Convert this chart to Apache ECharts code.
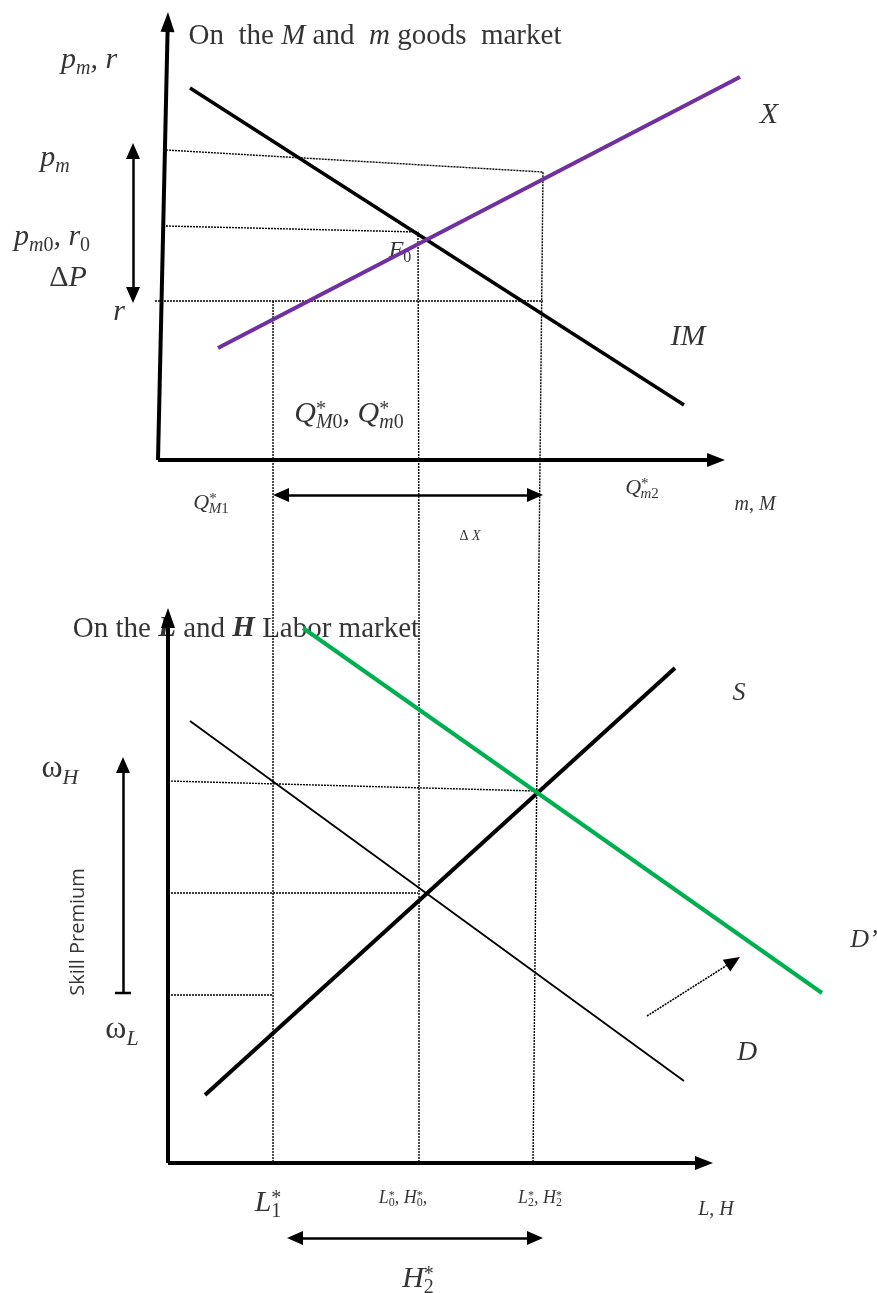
<!DOCTYPE html>
<html><head><meta charset="utf-8">
<script src="https://cdn.jsdelivr.net/npm/echarts@6.0.0/dist/echarts.min.js"></script>
<style>html,body{margin:0;padding:0;background:#fff}#c{width:877px;height:1293px}</style>
</head><body><div id="c"></div>
<script>
// ===== Goods market panel (quantity m,M ; price p_m,r), units measured from the origin =====
const imCurve   = [[32, 372], [526, 55]];      // IM (import demand)
const xCurve    = [[60, 112], [582, 383]];     // X  (export supply)
const pmGuide   = [[8, 310], [385, 288], [381, -100]];
const pm0Guide  = [[8, 234], [260, 228], [261, -100]];
const rGuide    = [[-3, 159], [385, 159]];
const qM1Guide  = [[115, 159], [115, -100]];
const topYAxis  = [[0, 0], [10, 448]];
const topXAxis  = [[0, 0], [567, 0]];
const deltaPArrow = [[-25, 317], [-25, 157]];
const deltaXArrow = [[115, -35], [385, -35]];

// ===== Labor market panel (quantity L,H ; wage ω), units measured from the origin =====
const sCurve      = [[37, 68], [507, 495]];     // S
const dCurve      = [[22, 442], [516, 82]];     // D
const dPrimeCurve = [[135, 535], [654, 170]];   // D'
const wHGuide  = [[0, 382], [368, 372]];
const w0Guide  = [[0, 270], [250, 270]];
const wLGuide  = [[0, 168], [105, 168]];
const vL1 = [[105, 603], [105, 0]];
const vL0 = [[251, 603], [251, 0]];
const vL2 = [[371, 603], [365, 0]];
const botYAxis = [[0, 0], [0, 555]];
const botXAxis = [[0, 0], [545, 0]];
const skillArrow = [[-45, 170], [-45, 406]];
const skillBar   = [[-53, 170], [-37, 170]];
const shiftArrow = [[479, 147], [572, 206]];
const h2Arrow    = [[119, -75], [375, -75]];

// ===== Text annotations =====
const topLabels = [
  {t: '{t29|On  the }{ti29|M}{t29| and  }{ti29|m}{t29| goods  market}', at: [217, 424]},
  {t: '{i30|p}{sb30|m}{i30|, r}', at: [-69, 400]},
  {t: '{i30|p}{sb30|m}', at: [-103, 302]},
  {t: '{i30|p}{sb30|m}{sbu30|0}{i30|, r}{sbu30|0}', at: [-106, 223]},
  {t: '{u30|Δ}{i30|P}', at: [-90, 182]},
  {t: '{i30|r}', at: [-39, 148]},
  {t: '{i24|F}{sbu24|0}', at: [242, 209]},
  {t: '{i30|X}', at: [611, 345]},
  {t: '{i30|IM}', at: [530, 123]},
  {t: '{i30|Q}{sp30|*}{sbs30|M}{sbu30|0}{i30|, Q}{sp30|*}{sbs30|m}{sbu30|0}', at: [191, 46]},
  {t: '{i22|Q}{sp22|*}{sbs22|M}{sbu22|1}', at: [53, -43]},
  {t: '{i22|Q}{sp22|*}{sbs22|m}{sbu22|2}', at: [484, -28]},
  {t: '{i20|m, M}', at: [597, -45]},
  {t: '{u14|Δ }{i14|X}', at: [312, -76]}
];
const botLabels = [
  {t: '{t29|On the }{tb29|L}{t29| and }{tb29|H}{t29| Labor market}', at: [78, 534]},
  {t: '{u32|ω}{sb32|H}', at: [-108, 394]},
  {t: '{u32|ω}{sb32|L}', at: [-46, 133]},
  {t: '{i26|S}', at: [571, 470]},
  {t: '{i26|D’}', at: [696, 223]},
  {t: '{i28|D}', at: [579, 110]},
  {t: '{i30|L}{sp30|*}{sbsu30|1}', at: [100, -40]},
  {t: '{i18|L}{sp18|*}{sbsu18|0}{i18|, H}{sp18|*}{sbsu18|0}{i18|,}', at: [235, -35]},
  {t: '{i18|L}{sp18|*}{sbsu18|2}{i18|, H}{sp18|*}{sbsu18|2}', at: [372, -35]},
  {t: '{i20|L, H}', at: [548, -47]},
  {t: '{i30|H}{sp30|*}{sbsu30|2}', at: [250, -116]}
];
const skillLabel = {t: 'Skill Premium', at: [-90, 231]};

// ===== styling helpers =====
const SERIF = '"Liberation Serif", "DejaVu Serif", serif';
function richFor(N) {
  const r = {};
  const base = {fontFamily: SERIF, color: '#000'};
  r['t' + N]  = Object.assign({}, base, {fontSize: N});
  r['ti' + N] = Object.assign({}, base, {fontSize: N, fontStyle: 'italic'});
  r['tb' + N] = Object.assign({}, base, {fontSize: N, fontStyle: 'italic', fontWeight: 'bold'});
  r['i' + N]  = Object.assign({}, base, {fontSize: N, fontStyle: 'italic'});
  r['u' + N]  = Object.assign({}, base, {fontSize: N});
  const s = Math.round(N * 0.68);
  const down = Math.round(N * 0.55);
  const up = Math.round(N * 0.3);
  const starW = Math.round(s * 0.5);
  r['sb' + N]   = Object.assign({}, base, {fontSize: s, fontStyle: 'italic', padding: [down, 0, 0, 0]});
  r['sbu' + N]  = Object.assign({}, base, {fontSize: s, padding: [down, 0, 0, 0]});
  r['sbs' + N]  = Object.assign({}, base, {fontSize: s, fontStyle: 'italic', padding: [down, 0, 0, -starW]});
  r['sbsu' + N] = Object.assign({}, base, {fontSize: s, padding: [down, 0, 0, -starW]});
  r['sp' + N]   = Object.assign({}, base, {fontSize: s, padding: [0, 0, up, 0]});
  return r;
}
const rich = Object.assign({}, ...[14, 18, 20, 22, 24, 26, 28, 29, 30, 32].map(richFor));

const DOT = [2, 1];
function lineS(g, data, color, width, dashed, z) {
  return {
    type: 'line', xAxisIndex: g, yAxisIndex: g, data: data, symbol: 'none', showSymbol: false,
    silent: true, animation: false, z: z || 3,
    lineStyle: {color: color, width: width, type: dashed ? DOT : 'solid', cap: 'butt'}
  };
}
// arrow segment: shorten so that the triangle's tip lands on the given end point (units are 1:1 with px)
function arrowItem(a, b, head, both, sizeW) {
  const dx = b[0] - a[0], dy = b[1] - a[1], L = Math.hypot(dx, dy);
  const k = head / 2 / L;
  const b2 = [b[0] - dx * k, b[1] - dy * k];
  const a2 = both ? [a[0] + dx * k, a[1] + dy * k] : a;
  return [
    {coord: a2, symbol: both ? 'triangle' : 'none', symbolSize: [sizeW, head]},
    {coord: b2, symbol: 'triangle', symbolSize: [sizeW, head]}
  ];
}
function arrowS(g, items, width, dashed) {
  return {
    type: 'line', xAxisIndex: g, yAxisIndex: g, data: [], silent: true, animation: false, z: 5,
    markLine: {
      silent: true, animation: false, label: {show: false}, emphasis: {disabled: true},
      lineStyle: {color: '#000', width: width, type: dashed ? DOT : 'solid'},
      itemStyle: {color: '#000'},
      data: items
    }
  };
}
function labelS(g, labels) {
  return {
    type: 'scatter', xAxisIndex: g, yAxisIndex: g, silent: true, animation: false, z: 4,
    symbolSize: 1, itemStyle: {color: 'rgba(0,0,0,0)'},
    label: {show: true, position: 'inside', color: '#000', textBorderWidth: 0, rich: rich,
            formatter: p => labels[p.dataIndex].t},
    data: labels.map(l => l.at)
  };
}

const chart = echarts.init(document.getElementById('c'), null, {renderer: 'canvas'});
chart.setOption({
  animation: false,
  backgroundColor: '#fff',
  grid: [
    {left: 0, top: 0, width: 877, height: 560},
    {left: 0, top: 560, width: 877, height: 733}
  ],
  xAxis: [
    {gridIndex: 0, type: 'value', min: -158, max: 719, show: false},
    {gridIndex: 1, type: 'value', min: -168, max: 709, show: false}
  ],
  yAxis: [
    {gridIndex: 0, type: 'value', min: -100, max: 460, show: false},
    {gridIndex: 1, type: 'value', min: -130, max: 603, show: false}
  ],
  series: [
    // goods market
    lineS(0, pmGuide, '#000', 1.4, true),
    lineS(0, pm0Guide, '#000', 1.4, true),
    lineS(0, rGuide, '#000', 1.4, true),
    lineS(0, qM1Guide, '#000', 1.4, true),
    lineS(0, imCurve, '#000', 3.5, false, 6),
    lineS(0, xCurve, '#7030A0', 4, false, 6),
    arrowS(0, [arrowItem(topYAxis[0], topYAxis[1], 20, false, 14),
               arrowItem(topXAxis[0], topXAxis[1], 18, false, 14)], 4),
    arrowS(0, [arrowItem(deltaPArrow[0], deltaPArrow[1], 16, true, 14),
               arrowItem(deltaXArrow[0], deltaXArrow[1], 16, true, 14)], 2.5),
    labelS(0, topLabels),
    // labor market
    lineS(1, vL1, '#000', 1.4, true),
    lineS(1, vL0, '#000', 1.4, true),
    lineS(1, vL2, '#000', 1.4, true),
    lineS(1, wHGuide, '#000', 1.4, true),
    lineS(1, w0Guide, '#000', 1.4, true),
    lineS(1, wLGuide, '#000', 1.4, true),
    lineS(1, dCurve, '#000', 1.8, false, 6),
    lineS(1, sCurve, '#000', 4, false, 6),
    lineS(1, dPrimeCurve, '#00B050', 4, false, 6),
    lineS(1, skillBar, '#000', 2.5, false, 6),
    arrowS(1, [arrowItem(botYAxis[0], botYAxis[1], 20, false, 14),
               arrowItem(botXAxis[0], botXAxis[1], 18, false, 14)], 4),
    arrowS(1, [arrowItem(skillArrow[0], skillArrow[1], 16, false, 14),
               arrowItem(h2Arrow[0], h2Arrow[1], 16, true, 14)], 2.5),
    arrowS(1, [arrowItem(shiftArrow[0], shiftArrow[1], 16, false, 14)], 1.6, true),
    labelS(1, botLabels),
    {
      type: 'scatter', xAxisIndex: 1, yAxisIndex: 1, silent: true, animation: false, z: 4,
      symbolSize: 1, itemStyle: {color: 'rgba(0,0,0,0)'},
      label: {show: true, position: 'inside', rotate: 90, color: '#000', textBorderWidth: 0,
              fontFamily: '"Open Sans", "Noto Sans", sans-serif', fontSize: 20,
              formatter: () => skillLabel.t},
      data: [skillLabel.at]
    }
  ]
});
</script>
</body></html>
